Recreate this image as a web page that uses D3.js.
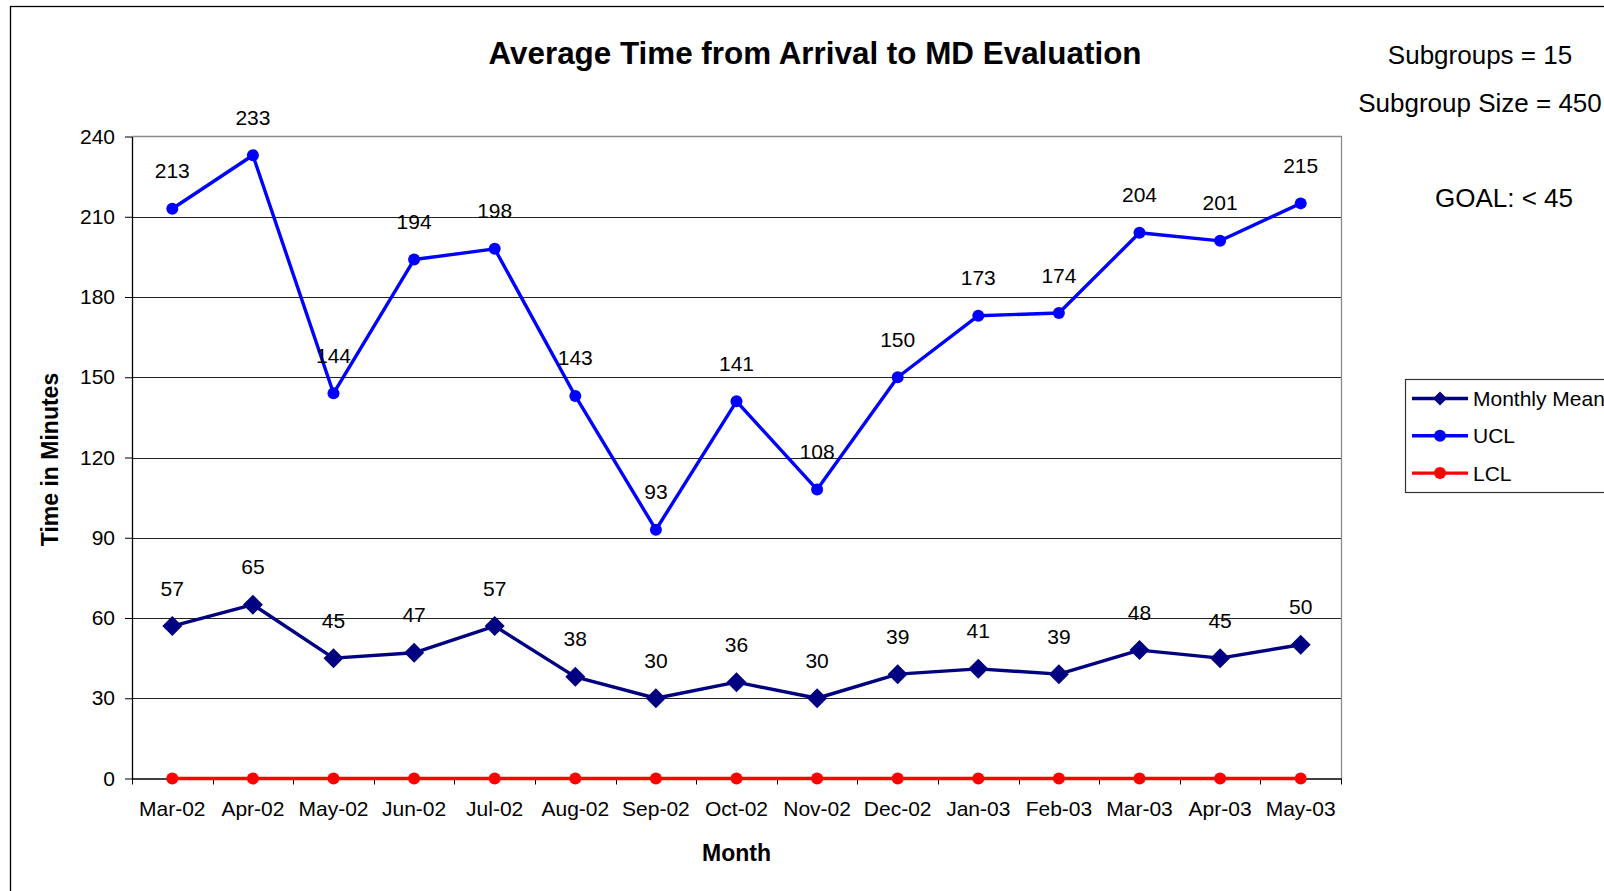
<!DOCTYPE html>
<html>
<head>
<meta charset="utf-8">
<script src="https://cdn.jsdelivr.net/npm/d3@7/dist/d3.min.js"></script>
<style>
  html, body { margin: 0; padding: 0; background: #fff; }
  svg { display: block; font-family: "Liberation Sans", Arial, sans-serif; }
</style>
</head>
<body>
<svg id="chart" width="1604" height="891"></svg>
<script>
// Monthly control chart data
const months = ["Mar-02", "Apr-02", "May-02", "Jun-02", "Jul-02", "Aug-02", "Sep-02", "Oct-02",
                "Nov-02", "Dec-02", "Jan-03", "Feb-03", "Mar-03", "Apr-03", "May-03"];
const monthlyMean = [57, 65, 45, 47, 57, 38, 30, 36, 30, 39, 41, 39, 48, 45, 50];
const ucl = [213, 233, 144, 194, 198, 143, 93, 141, 108, 150, 173, 174, 204, 201, 215];
const lcl = [0, 0, 0, 0, 0, 0, 0, 0, 0, 0, 0, 0, 0, 0, 0];
const yTicks = [0, 30, 60, 90, 120, 150, 180, 210, 240];
const seriesNames = ["Monthly Mean", "UCL", "LCL"];
const notes = ["Subgroups = 15", "Subgroup Size = 450", "GOAL: < 45"];

const svg = d3.select("#chart");
const plot = { left: 132, right: 1341, top: 136.5, bottom: 778.5 };

const x = d3.scaleBand().domain(months).range([plot.left, plot.right]).padding(0);
const y = d3.scaleLinear().domain([0, 240]).range([plot.bottom, plot.top]);
const cx = m => x(m) + x.bandwidth() / 2;

// Chart frame
svg.append("rect")
  .attr("x", 10.5).attr("y", 6.5).attr("width", 1700).attr("height", 1000)
  .attr("fill", "none").attr("stroke", "#000").attr("stroke-width", 1.3);

// Horizontal gridlines
svg.append("g")
  .selectAll("line")
  .data(yTicks.filter(v => v > 0 && v < 240))
  .join("line")
  .attr("x1", plot.left).attr("x2", plot.right)
  .attr("y1", d => Math.round(y(d)) + 0.5).attr("y2", d => Math.round(y(d)) + 0.5)
  .attr("stroke", "#222").attr("stroke-width", 1);

// Plot area border (top and right)
svg.append("path")
  .attr("d", `M${plot.left},${plot.top} H${plot.right + 0.5} V${plot.bottom}`)
  .attr("fill", "none").attr("stroke", "#8c8c8c").attr("stroke-width", 1.3);

// Y axis
const yAxis = svg.append("g")
  .attr("transform", `translate(${plot.left},0)`)
  .call(d3.axisLeft(y).tickValues(yTicks).tickSize(7).tickPadding(10).tickSizeOuter(0));
yAxis.select(".domain").attr("stroke", "#000").attr("stroke-width", 1.3);
yAxis.selectAll(".tick line").attr("stroke", "#000");
yAxis.selectAll(".tick text")
  .attr("font-size", 21).attr("fill", "#000")
  .attr("font-family", "'Liberation Sans', Arial, sans-serif");

// X axis: labels at category centres, ticks at category boundaries
const xAxis = svg.append("g")
  .attr("transform", `translate(0,${plot.bottom})`)
  .call(d3.axisBottom(x).tickSize(0).tickPadding(22.5).tickSizeOuter(0));
xAxis.select(".domain").attr("stroke", "#000").attr("stroke-width", 1.3);
xAxis.selectAll(".tick text")
  .attr("font-size", 21).attr("fill", "#000")
  .attr("font-family", "'Liberation Sans', Arial, sans-serif");
svg.append("g")
  .selectAll("line")
  .data(months.concat(["end"]))
  .join("line")
  .attr("x1", (d, i) => Math.round(plot.left + i * x.step()) + 0.5)
  .attr("x2", (d, i) => Math.round(plot.left + i * x.step()) + 0.5)
  .attr("y1", plot.bottom).attr("y2", plot.bottom + 6)
  .attr("stroke", "#000");

// Axis titles
svg.append("text")
  .attr("x", (plot.left + plot.right) / 2).attr("y", 861)
  .attr("text-anchor", "middle").attr("font-size", 23).attr("font-weight", "bold")
  .text("Month");
svg.append("text")
  .attr("transform", `translate(58,${(plot.top + plot.bottom) / 2 + 2}) rotate(-90)`)
  .attr("text-anchor", "middle").attr("font-size", 23).attr("font-weight", "bold")
  .text("Time in Minutes");

// Title
svg.append("text")
  .attr("x", 815).attr("y", 64)
  .attr("text-anchor", "middle").attr("font-size", 31.4).attr("font-weight", "bold")
  .text("Average Time from Arrival to MD Evaluation");

// Side notes
svg.append("text").attr("x", 1480).attr("y", 64).attr("text-anchor", "middle")
  .attr("font-size", 26).text(notes[0]);
svg.append("text").attr("x", 1480).attr("y", 111.5).attr("text-anchor", "middle")
  .attr("font-size", 26).text(notes[1]);
svg.append("text").attr("x", 1504).attr("y", 207).attr("text-anchor", "middle")
  .attr("font-size", 26).text(notes[2]);

// Series
const series = [
  { name: seriesNames[0], values: monthlyMean, color: "#000080", marker: "diamond", labels: true },
  { name: seriesNames[1], values: ucl, color: "#0000ff", marker: "circle", labels: true },
  { name: seriesNames[2], values: lcl, color: "#ff0000", marker: "circle", labels: false }
];

const line = d3.line().x(d => cx(d.m)).y(d => y(d.v));

function drawMarker(g, px, py, s) {
  if (s.marker === "diamond") {
    const r = 10;
    g.append("path")
      .attr("d", `M${px},${py - r} L${px + r},${py} L${px},${py + r} L${px - r},${py} Z`)
      .attr("fill", s.color);
  } else {
    g.append("circle").attr("cx", px).attr("cy", py).attr("r", 6).attr("fill", s.color);
  }
}

series.forEach(s => {
  const pts = months.map((m, i) => ({ m, v: s.values[i] }));
  const g = svg.append("g");
  g.append("path").datum(pts)
    .attr("d", line).attr("fill", "none")
    .attr("stroke", s.color).attr("stroke-width", 3.4).attr("stroke-linejoin", "round");
  pts.forEach(p => drawMarker(g, cx(p.m), y(p.v), s));
});

// Data labels
series.filter(s => s.labels).forEach(s => {
  svg.append("g")
    .selectAll("text")
    .data(months.map((m, i) => ({ m, v: s.values[i] })))
    .join("text")
    .attr("x", d => cx(d.m))
    .attr("y", d => y(d.v) - 30.5)
    .attr("text-anchor", "middle").attr("font-size", 21).attr("fill", "#000")
    .text(d => d.v);
});

// Legend
const legend = svg.append("g");
legend.append("rect")
  .attr("x", 1405.5).attr("y", 379.5).attr("width", 300).attr("height", 113)
  .attr("fill", "#fff").attr("stroke", "#333").attr("stroke-width", 1.2);
series.forEach((s, i) => {
  const ly = 398.5 + i * 37.3;
  legend.append("line")
    .attr("x1", 1412).attr("x2", 1468).attr("y1", ly).attr("y2", ly)
    .attr("stroke", s.color).attr("stroke-width", 3.4);
  if (s.marker === "diamond") {
    const r = 7;
    legend.append("path")
      .attr("d", `M1440,${ly - r} L${1440 + r},${ly} L1440,${ly + r} L${1440 - r},${ly} Z`)
      .attr("fill", s.color);
  } else {
    legend.append("circle").attr("cx", 1440).attr("cy", ly).attr("r", 6).attr("fill", s.color);
  }
  legend.append("text")
    .attr("x", 1473).attr("y", ly + 7.5)
    .attr("font-size", 21).attr("fill", "#000")
    .text(s.name);
});
</script>
</body>
</html>
